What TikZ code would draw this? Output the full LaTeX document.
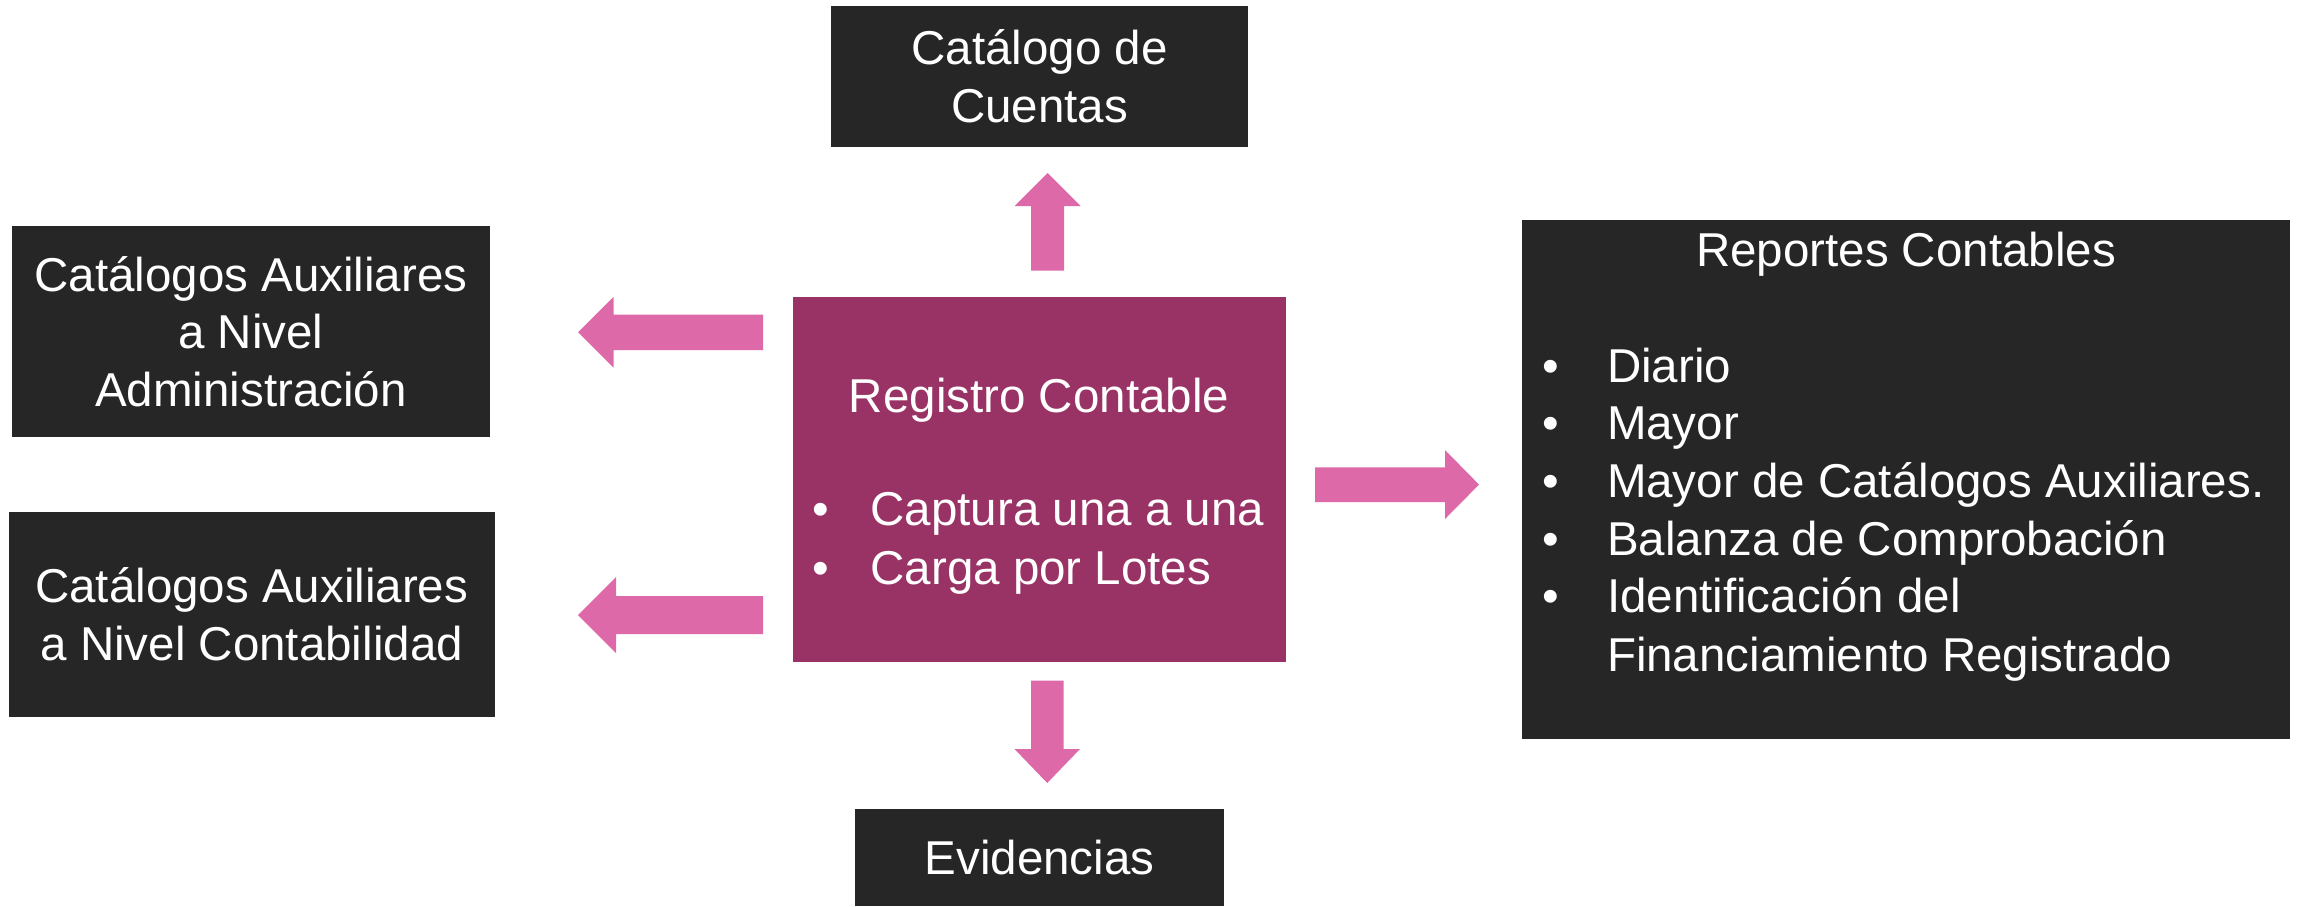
\documentclass[tikz,border=0pt]{standalone}
\usepackage{fontspec}
\setmainfont{Liberation Sans}
\definecolor{darkbox}{HTML}{262626}
\definecolor{regbox}{HTML}{993366}
\definecolor{pinkarrow}{HTML}{DD69A9}
\begin{document}
\begin{tikzpicture}[x=0.5pt,y=-0.5pt,
  every node/.style={font=\fontsize{23.75pt}{28.85pt}\selectfont, text=white},
  darkbox/.style={rectangle, fill=darkbox, draw=none, inner sep=0pt, outer sep=0pt, align=center},
  regstyle/.style={rectangle, fill=regbox, draw=none, inner sep=0pt, outer sep=0pt},
  txt/.style={inner sep=0pt, outer sep=0pt},
  blockarrow/.style={fill=pinkarrow, draw=none}]
\useasboundingbox (0,0) rectangle (2297,906);
% boxes
\node[darkbox, minimum width=208.5pt, minimum height=70.25pt] (cat) at (1039.5,76.25) {Catálogo de\\Cuentas};
\node[darkbox, minimum width=239pt, minimum height=105.5pt] (adm) at (251,331.5) {Catálogos Auxiliares\\a Nivel\\Administración};
\node[darkbox, minimum width=243.25pt, minimum height=102.75pt] (con) at (251.75,614.25) {Catálogos Auxiliares\\a Nivel Contabilidad};
\node[darkbox, minimum width=184.5pt, minimum height=48.5pt] (evi) at (1039.5,857.5) {Evidencias};
\node[regstyle, minimum width=246.75pt, minimum height=182.5pt] (reg) at (1039.25,479.5) {};
\node[darkbox, minimum width=384pt, minimum height=259.5pt] (rep) at (1906,479.5) {};
% Registro text
\node[txt, anchor=base] (regt) at (1039,412) {Registro Contable};
\node[txt, anchor=base] (regb1) at (821,525.7) {•};
\node[txt, anchor=base west] (regi1) at (870.5,525.7) {Captura una a una};
\node[txt, anchor=base] (regb2) at (821,584.6) {•};
\node[txt, anchor=base west] (regi2) at (870.5,584.6) {Carga por Lotes};
% Reportes text
\node[txt, anchor=base] (rept) at (1906,266.4) {Reportes Contables};
\foreach \y/\t [count=\i] in {382.3/Diario, 439.8/Mayor, 497.2/Mayor de Catálogos Auxiliares., 555.3/Balanza de Comprobación, 612.8/Identificación del}{
  \node[txt, anchor=base] (repb\i) at (1550.6,\y) {•};
  \node[txt, anchor=base west] (repi\i) at (1607,\y) {\t};
}
\node[txt, anchor=base west] (repi6) at (1607,671) {Financiamiento Registrado};
% block arrows
\fill[blockarrow] (1031,270.5) -- (1031,206) -- (1014.5,206) -- (1047.5,173) -- (1080.5,206) -- (1064,206) -- (1064,270.5) -- cycle;
\fill[blockarrow] (1031,680.5) -- (1031,749) -- (1014.5,749) -- (1047.25,783) -- (1080,749) -- (1063.5,749) -- (1063.5,680.5) -- cycle;
\fill[blockarrow] (763,314.5) -- (613.5,314.5) -- (613.5,297) -- (578,332.25) -- (613.5,367.5) -- (613.5,350) -- (763,350) -- cycle;
\fill[blockarrow] (763,596) -- (616,596) -- (616,577) -- (578,615) -- (616,653) -- (616,634) -- (763,634) -- cycle;
\fill[blockarrow] (1315,467.4) -- (1445,467.4) -- (1445,450) -- (1479,484.6) -- (1445,519) -- (1445,502.2) -- (1315,502.2) -- cycle;
\end{tikzpicture}
\end{document}
